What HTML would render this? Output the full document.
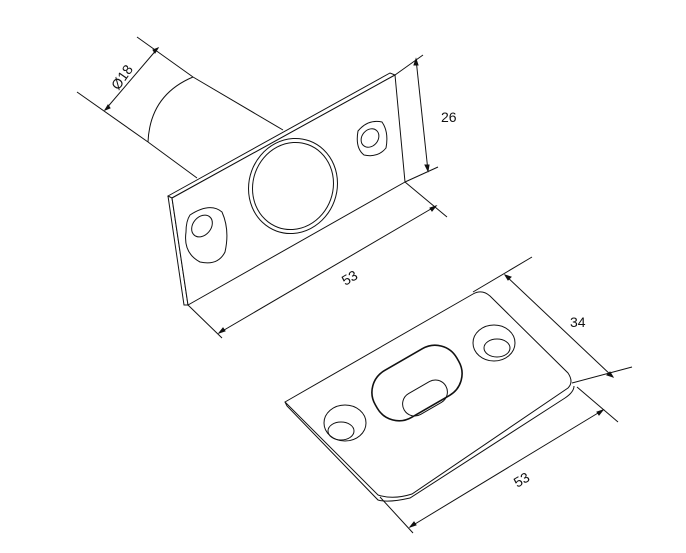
<!DOCTYPE html>
<html><head><meta charset="utf-8"><style>
html,body{margin:0;padding:0;background:#fff;width:686px;height:553px;overflow:hidden}
svg{display:block}
text{font-family:"Liberation Sans",Arial,sans-serif;font-size:14px;fill:#111;stroke:none}
</style></head><body>
<svg width="686" height="553" viewBox="0 0 686 553" fill="none" stroke="#111" stroke-width="1">
<!-- TOP PART -->
<path d="M193,77 L283,130"/>
<path d="M148,142 L197,178"/>
<path d="M193,77 Q150,95 148,142"/>
<path d="M137,37 L193,77"/>
<path d="M77,92 L148,142"/>
<path d="M158,48 L105,110"/>
<path d="M158,48 l-5,2 l2,3z" fill="#111"/>
<path d="M105,110 l5,-2 l-2,-3z" fill="#111"/>
<text transform="translate(126,80) rotate(-55)" text-anchor="middle">Ø18</text>
<path d="M168,196 L390,73 L395,75 L172,198 Z" fill="#fff"/>
<path d="M168,196 L184,305 L188,305 L172,198"/>
<path d="M172,198 L395,75 L405,182 L188,305 Z" fill="#fff"/>
<path d="M190,215 Q210,202 222,212 Q230,230 225,252 Q218,266 200,262 Q183,253 186,232 Q186,221 190,215 Z"/>
<ellipse cx="202" cy="226" rx="9" ry="12" transform="rotate(40 202 226)"/>
<ellipse cx="293" cy="186" rx="44" ry="48" transform="rotate(20 293 186)"/>
<ellipse cx="293" cy="186" rx="40" ry="44" transform="rotate(20 293 186)"/>
<path d="M358,131 Q368,119 382,122 Q389,132 386,148 Q378,158 364,155 Q355,148 358,131 Z"/>
<ellipse cx="370" cy="138" rx="8" ry="10" transform="rotate(40 370 138)"/>
<path d="M395,75 L423,55"/>
<path d="M405,182 L438,167"/>
<path d="M416,59 L428,171"/>
<path d="M416,59 l-2,6 l4,0z" fill="#111"/>
<path d="M428,171 l1,-6 l-4,0z" fill="#111"/>
<text x="441" y="122">26</text>
<path d="M188,305 L222,338"/>
<path d="M405,182 L447,217"/>
<path d="M219,333 L436,206"/>
<path d="M219,333 l6,-2 l-2,-3z" fill="#111"/>
<path d="M436,206 l-6,2 l2,3z" fill="#111"/>
<text transform="translate(352,282) rotate(-30)" text-anchor="middle">53</text>

<!-- BOTTOM PART -->
<path d="M285,402 L287,406 L378,500 Q388,503 410,498 L565,398 Q574,392 574,386" fill="#fff"/>
<path d="M285,402 L473,294 Q482,289 490,296 L568,373 Q574,382 568,388 L412,494 Q393,500 378,495 Z" fill="#fff"/>
<ellipse cx="345" cy="423" rx="21" ry="18"/>
<ellipse cx="341" cy="431" rx="13" ry="9"/>
<ellipse cx="494" cy="343" rx="21" ry="18"/>
<ellipse cx="497" cy="348" rx="13" ry="9"/>
<rect x="370" y="356" width="94" height="54" rx="25" transform="rotate(-30 417 383)" stroke-width="1.6"/>
<rect x="401" y="386" width="48" height="24" rx="12" transform="rotate(-30 425 398)"/>
<path d="M473,292 L532,257"/>
<path d="M572,383 L632,367"/>
<path d="M505,275 L613,377"/>
<path d="M505,275 l3,5 l3,-3z" fill="#111"/>
<path d="M613,377 l-3,-5 l-3,3z" fill="#111"/>
<text x="570" y="327">34</text>
<path d="M380,497 L413,533"/>
<path d="M577,387 L618,422"/>
<path d="M410,527 L603,410"/>
<path d="M410,527 l6,-2 l-2,-3z" fill="#111"/>
<path d="M603,410 l-6,2 l2,3z" fill="#111"/>
<text transform="translate(524,484) rotate(-30)" text-anchor="middle">53</text>
</svg>
</body></html>
